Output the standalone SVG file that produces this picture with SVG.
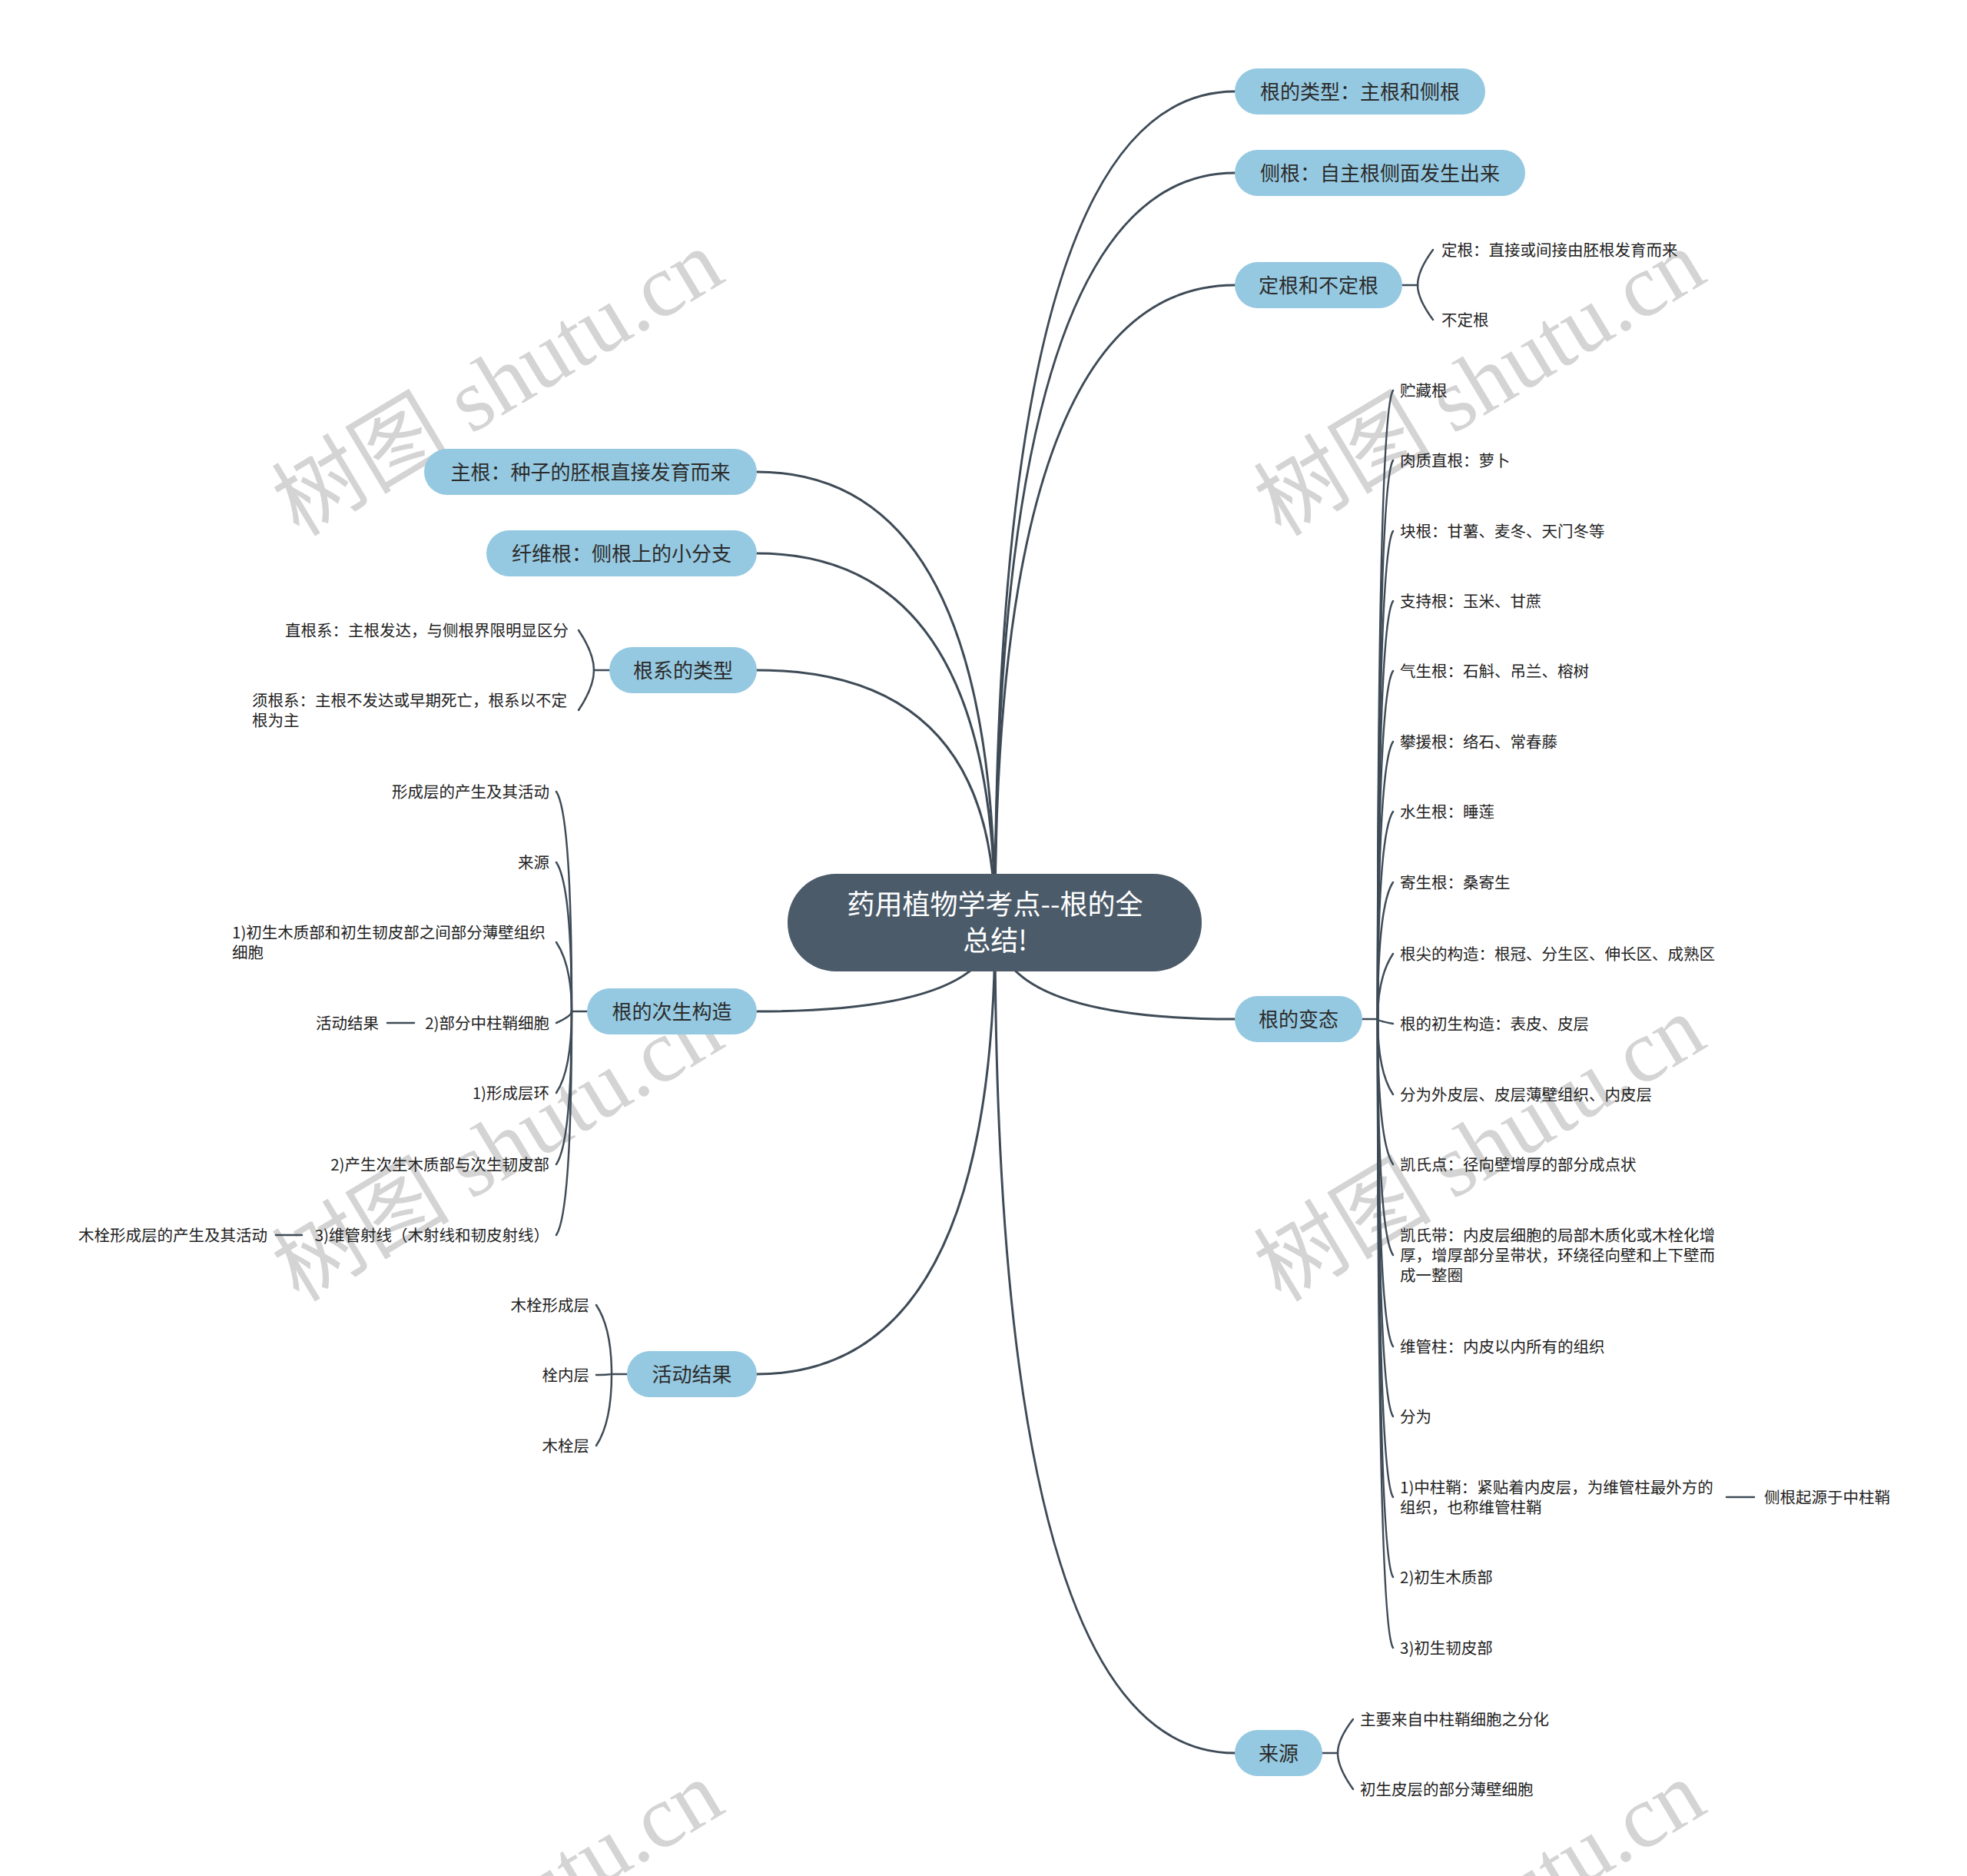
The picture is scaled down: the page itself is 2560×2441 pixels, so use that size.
<svg xmlns="http://www.w3.org/2000/svg" width="2560" height="2441" viewBox="0 0 2560 2441">
<style>
.wm{font-family:"Liberation Serif","Noto Sans CJK SC",serif;font-size:116px;fill:#d4d4d4;}
.main{fill:none;stroke:#3e4b57;stroke-width:3;stroke-linecap:round;}
.sub{fill:none;stroke:#3e4b57;stroke-width:2.5;stroke-linecap:round;}
.n1{fill:#95c9e1;}
.t1{font-family:"Noto Sans CJK SC","Noto Sans",sans-serif;font-size:26px;fill:#2b2b2b;text-anchor:middle;}
.t2{font-family:"Noto Sans CJK SC","Noto Sans",sans-serif;font-size:20.5px;fill:#222;}
.r{text-anchor:end;}
.root{fill:#4b5b6a;}
.t0{font-family:"Noto Sans CJK SC","Noto Sans",sans-serif;font-size:36px;fill:#ffffff;text-anchor:middle;}
</style>
<rect width="2560" height="2441" fill="#ffffff"/>
<g id="watermarks">
<text class="wm" x="668" y="532" text-anchor="middle" transform="rotate(-31 668 532)">树图 shutu.cn</text>
<text class="wm" x="1946" y="532" text-anchor="middle" transform="rotate(-31 1946 532)">树图 shutu.cn</text>
<text class="wm" x="668" y="1528" text-anchor="middle" transform="rotate(-31 668 1528)">树图 shutu.cn</text>
<text class="wm" x="1946" y="1528" text-anchor="middle" transform="rotate(-31 1946 1528)">树图 shutu.cn</text>
<text class="wm" x="668" y="2524" text-anchor="middle" transform="rotate(-31 668 2524)">树图 shutu.cn</text>
<text class="wm" x="1946" y="2524" text-anchor="middle" transform="rotate(-31 1946 2524)">树图 shutu.cn</text>
</g>
<g id="connectors">
<path class="main" d="M1295 1201 Q1295 119 1607 119"/>
<path class="main" d="M1295 1201 Q1295 225 1607 225"/>
<path class="main" d="M1295 1201 Q1295 371 1607 371"/>
<path class="main" d="M1295 1201 Q1295 1326 1607 1326"/>
<path class="main" d="M1295 1201 Q1295 2281 1607 2281"/>
<path class="main" d="M1295 1201 Q1295 614 985 614"/>
<path class="main" d="M1295 1201 Q1295 720 985 720"/>
<path class="main" d="M1295 1201 Q1295 872 985 872"/>
<path class="main" d="M1295 1201 Q1295 1316 985 1316"/>
<path class="main" d="M1295 1201 Q1295 1788 985 1788"/>
<path class="sub" d="M1825 371 H1845"/>
<path class="sub" d="M1845 371 Q1845 352 1865 325"/>
<path class="sub" d="M1845 371 Q1845 389 1865 416"/>
<path class="sub" d="M1773 1326 H1793"/>
<path class="sub" d="M1793 1326 Q1793 538 1813 508"/>
<path class="sub" d="M1793 1326 Q1793 629 1813 599"/>
<path class="sub" d="M1793 1326 Q1793 721 1813 691"/>
<path class="sub" d="M1793 1326 Q1793 812 1813 782"/>
<path class="sub" d="M1793 1326 Q1793 903 1813 873"/>
<path class="sub" d="M1793 1326 Q1793 995 1813 965"/>
<path class="sub" d="M1793 1326 Q1793 1086 1813 1056"/>
<path class="sub" d="M1793 1326 Q1793 1178 1813 1148"/>
<path class="sub" d="M1793 1326 Q1793 1271 1813 1241"/>
<path class="sub" d="M1793 1326 Q1793 1328.4 1813 1332"/>
<path class="sub" d="M1793 1326 Q1793 1394 1813 1424"/>
<path class="sub" d="M1793 1326 Q1793 1485 1813 1515"/>
<path class="sub" d="M1793 1326 Q1793 1603 1813 1633"/>
<path class="sub" d="M1793 1326 Q1793 1722 1813 1752"/>
<path class="sub" d="M1793 1326 Q1793 1813 1813 1843"/>
<path class="sub" d="M1793 1326 Q1793 1918 1813 1948"/>
<path class="sub" d="M1793 1326 Q1793 2022 1813 2052"/>
<path class="sub" d="M1793 1326 Q1793 2114 1813 2144"/>
<path class="sub" d="M2247 1948 H2283"/>
<path class="sub" d="M1721 2281 H1741"/>
<path class="sub" d="M1741 2281 Q1741 2263 1761 2237"/>
<path class="sub" d="M1741 2281 Q1741 2300 1761 2328"/>
<path class="sub" d="M793 872 H773"/>
<path class="sub" d="M773 872 Q773 850 753 820"/>
<path class="sub" d="M773 872 Q773 894 753 924"/>
<path class="sub" d="M764 1316 H744"/>
<path class="sub" d="M744 1316 Q744 1060 724 1030"/>
<path class="sub" d="M744 1316 Q744 1152 724 1122"/>
<path class="sub" d="M744 1316 Q744 1256 724 1226"/>
<path class="sub" d="M744 1316 Q744 1322 724 1331"/>
<path class="sub" d="M744 1316 Q744 1392 724 1422"/>
<path class="sub" d="M744 1316 Q744 1485 724 1515"/>
<path class="sub" d="M744 1316 Q744 1577 724 1607"/>
<path class="sub" d="M504 1331 H539"/>
<path class="sub" d="M359 1607 H393"/>
<path class="sub" d="M816 1788 H796"/>
<path class="sub" d="M796 1788 Q796 1728 776 1698"/>
<path class="sub" d="M796 1788 Q796 1788.4 776 1789"/>
<path class="sub" d="M796 1788 Q796 1851 776 1881"/>
</g>
<g id="root">
<rect class="root" x="1025" y="1137" width="539" height="127" rx="63"/>
<text class="t0"><tspan x="1295" y="1190">药用植物学考点--根的全</tspan><tspan x="1295" y="1237">总结!</tspan></text>
</g>
<g id="n-genleixing"><rect class="n1" x="1607" y="89" width="326" height="60" rx="30"/><text class="t1" x="1770" y="129">根的类型：主根和侧根</text></g>
<g id="n-cegen"><rect class="n1" x="1607" y="195" width="378" height="60" rx="30"/><text class="t1" x="1796" y="235">侧根：自主根侧面发生出来</text></g>
<g id="n-dinggen"><rect class="n1" x="1607" y="341" width="218" height="60" rx="30"/><text class="t1" x="1716" y="381">定根和不定根</text></g>
<g id="n-biantai"><rect class="n1" x="1607" y="1296" width="166" height="60" rx="30"/><text class="t1" x="1690" y="1336">根的变态</text></g>
<g id="n-laiyuan"><rect class="n1" x="1607" y="2251" width="114" height="60" rx="30"/><text class="t1" x="1664" y="2291">来源</text></g>
<g id="n-zhugen"><rect class="n1" x="552" y="584" width="433" height="60" rx="30"/><text class="t1" x="768.5" y="624">主根：种子的胚根直接发育而来</text></g>
<g id="n-xianweigen"><rect class="n1" x="633" y="690" width="352" height="60" rx="30"/><text class="t1" x="809" y="730">纤维根：侧根上的小分支</text></g>
<g id="n-genxi"><rect class="n1" x="793" y="842" width="192" height="60" rx="30"/><text class="t1" x="889" y="882">根系的类型</text></g>
<g id="n-cisheng"><rect class="n1" x="764" y="1286" width="221" height="60" rx="30"/><text class="t1" x="874.5" y="1326">根的次生构造</text></g>
<g id="n-huodong"><rect class="n1" x="816" y="1758" width="169" height="60" rx="30"/><text class="t1" x="900.5" y="1798">活动结果</text></g>
<g id="c-dinggen">
<text class="t2" x="1876" y="333">定根：直接或间接由胚根发育而来</text>
<text class="t2" x="1876" y="424">不定根</text>
</g>
<g id="c-biantai">
<text class="t2" x="1822" y="516">贮藏根</text>
<text class="t2" x="1822" y="607">肉质直根：萝卜</text>
<text class="t2" x="1822" y="699">块根：甘薯、麦冬、天门冬等</text>
<text class="t2" x="1822" y="790">支持根：玉米、甘蔗</text>
<text class="t2" x="1822" y="881">气生根：石斛、吊兰、榕树</text>
<text class="t2" x="1822" y="973">攀援根：络石、常春藤</text>
<text class="t2" x="1822" y="1064">水生根：睡莲</text>
<text class="t2" x="1822" y="1156">寄生根：桑寄生</text>
<text class="t2" x="1822" y="1249">根尖的构造：根冠、分生区、伸长区、成熟区</text>
<text class="t2" x="1822" y="1340">根的初生构造：表皮、皮层</text>
<text class="t2" x="1822" y="1432">分为外皮层、皮层薄壁组织、内皮层</text>
<text class="t2" x="1822" y="1523">凯氏点：径向壁增厚的部分成点状</text>
<text class="t2"><tspan x="1822" y="1615">凯氏带：内皮层细胞的局部木质化或木栓化增</tspan><tspan x="1822" y="1641">厚，增厚部分呈带状，环绕径向壁和上下壁而</tspan><tspan x="1822" y="1667">成一整圈</tspan></text>
<text class="t2" x="1822" y="1760">维管柱：内皮以内所有的组织</text>
<text class="t2" x="1822" y="1851">分为</text>
<text class="t2"><tspan x="1822" y="1943">1)中柱鞘：紧贴着内皮层，为维管柱最外方的</tspan><tspan x="1822" y="1969">组织，也称维管柱鞘</tspan></text>
<text class="t2" x="2296" y="1956">侧根起源于中柱鞘</text>
<text class="t2" x="1822" y="2060">2)初生木质部</text>
<text class="t2" x="1822" y="2152">3)初生韧皮部</text>
</g>
<g id="c-laiyuan">
<text class="t2" x="1770" y="2245">主要来自中柱鞘细胞之分化</text>
<text class="t2" x="1770" y="2336">初生皮层的部分薄壁细胞</text>
</g>
<g id="c-genxi">
<text class="t2 r" x="740" y="828">直根系：主根发达，与侧根界限明显区分</text>
<text class="t2"><tspan x="328" y="919">须根系：主根不发达或早期死亡，根系以不定</tspan><tspan x="328" y="945">根为主</tspan></text>
</g>
<g id="c-cisheng">
<text class="t2 r" x="715" y="1038">形成层的产生及其活动</text>
<text class="t2 r" x="715" y="1130">来源</text>
<text class="t2"><tspan x="302" y="1221">1)初生木质部和初生韧皮部之间部分薄壁组织</tspan><tspan x="302" y="1247">细胞</tspan></text>
<text class="t2 r" x="715" y="1339">2)部分中柱鞘细胞</text>
<text class="t2 r" x="493" y="1339">活动结果</text>
<text class="t2 r" x="715" y="1430">1)形成层环</text>
<text class="t2 r" x="715" y="1523">2)产生次生木质部与次生韧皮部</text>
<text class="t2 r" x="715" y="1615">3)维管射线（木射线和韧皮射线）</text>
<text class="t2 r" x="348" y="1615">木栓形成层的产生及其活动</text>
</g>
<g id="c-huodong">
<text class="t2 r" x="767" y="1706">木栓形成层</text>
<text class="t2 r" x="767" y="1797">栓内层</text>
<text class="t2 r" x="767" y="1889">木栓层</text>
</g>
</svg>
